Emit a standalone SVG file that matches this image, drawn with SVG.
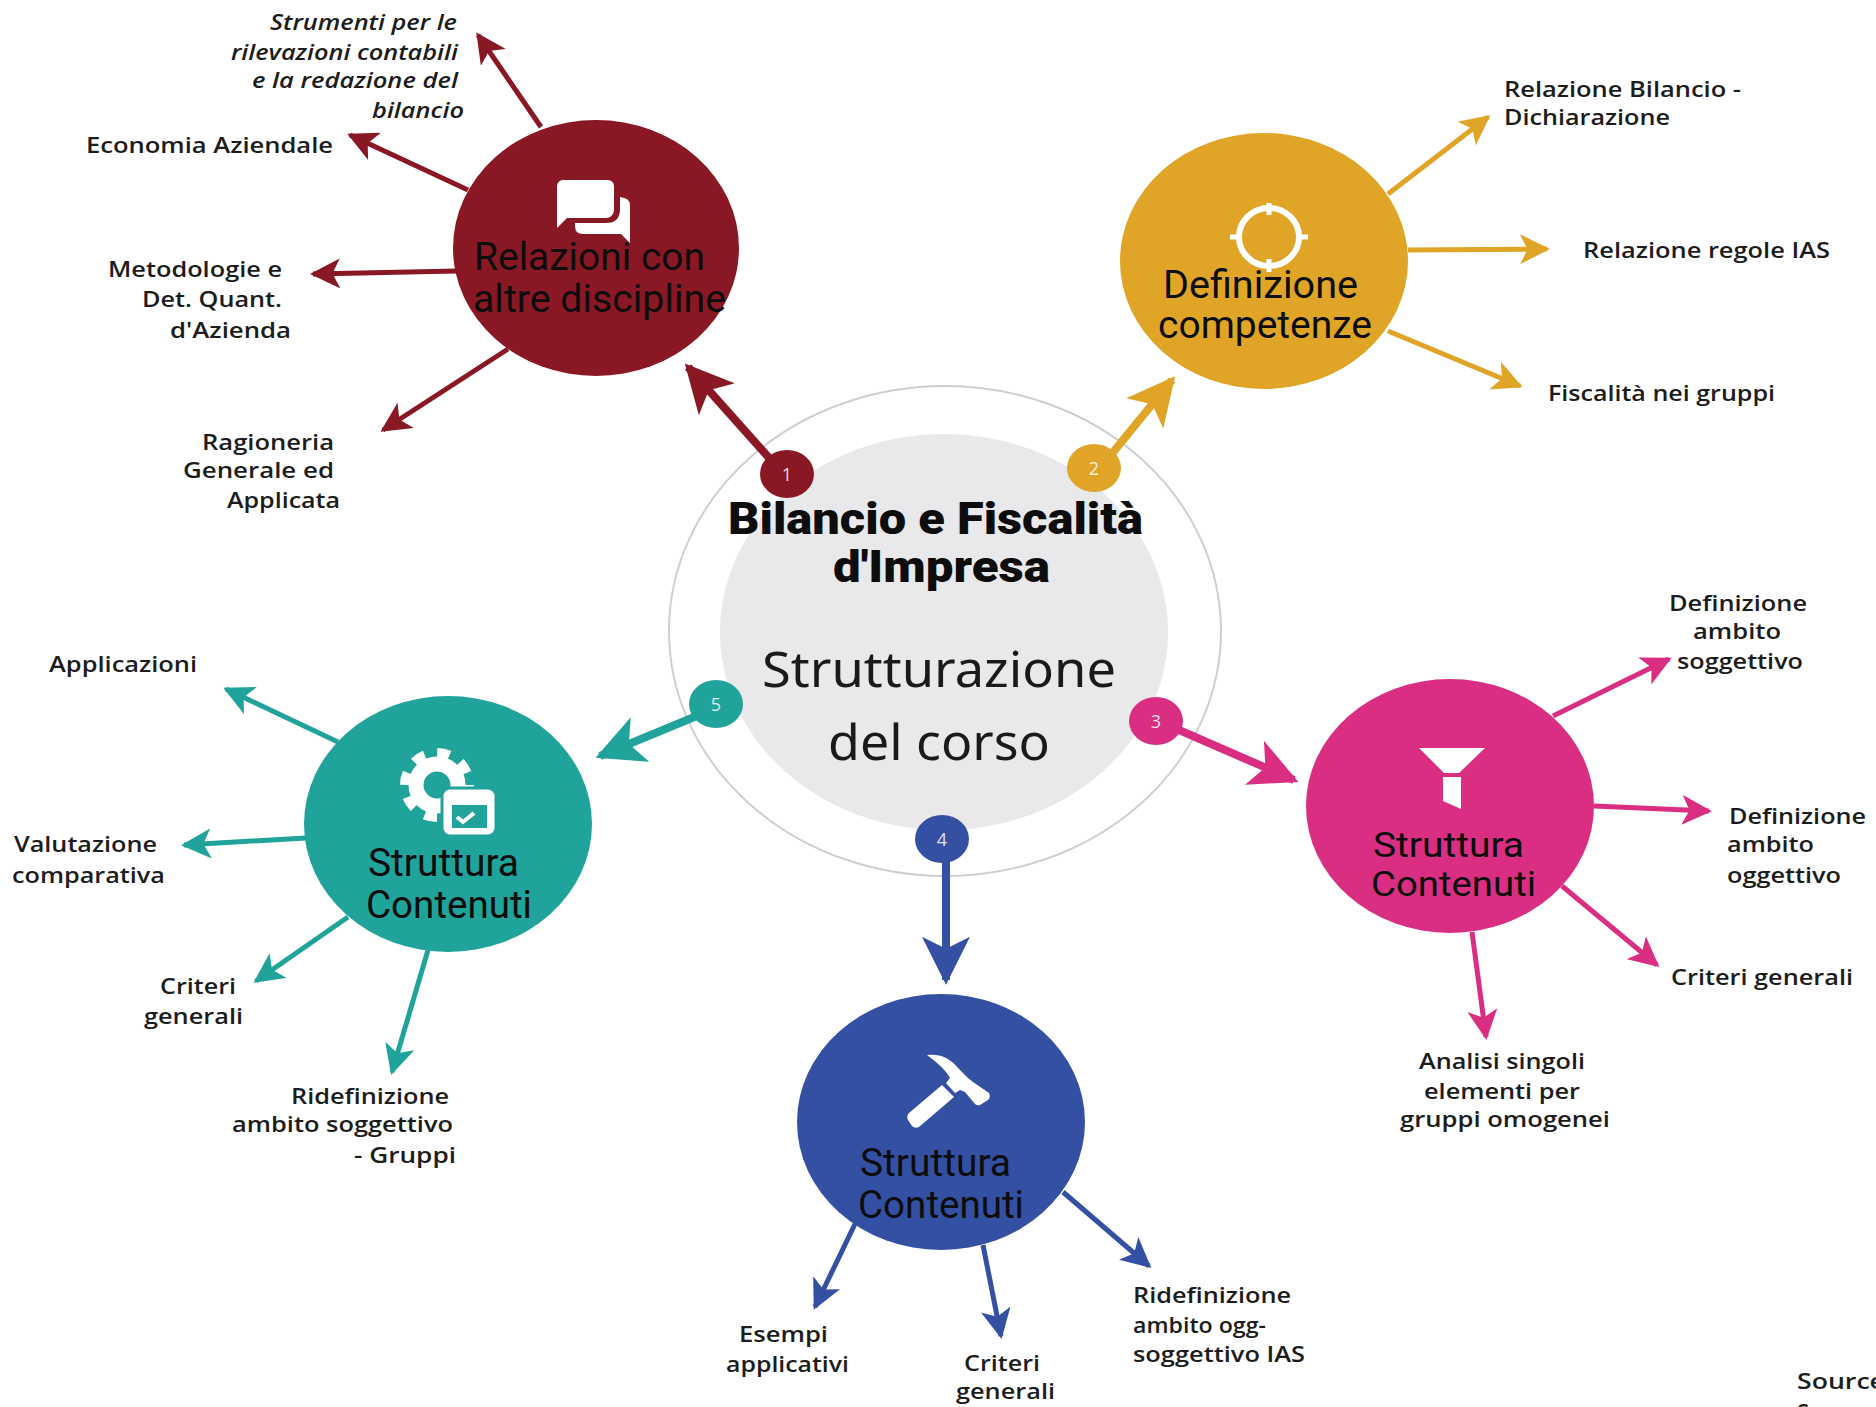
<svg xmlns="http://www.w3.org/2000/svg" width="1876" height="1407" viewBox="0 0 1876 1407">
<style>
text{font-family:"Open Sans","Liberation Sans",sans-serif}
.l{font-size:22px;font-weight:600;fill:#1c1c1c}
.i{font-style:italic}
.t{font-family:Roboto,"Liberation Sans",sans-serif;font-size:38px;font-weight:400;fill:#0d0d0d}
.p{font-size:35px}
.h{font-family:Roboto,"Liberation Sans",sans-serif;font-size:44px;font-weight:900;fill:#0d0d0d}
.s{font-family:"Noto Sans","Liberation Sans",sans-serif;font-size:49px;fill:#1a1a1a}
.n{font-size:18px;fill:#fff;text-anchor:middle;fill-opacity:.85}
.w{fill:#fff}
.c1{stroke:#8a1824;fill:none}.f1{fill:#8a1824}
.c2{stroke:#e0a526;fill:none}.f2{fill:#e0a526}
.c3{stroke:#d92e82;fill:none}.f3{fill:#d92e82}
.c4{stroke:#3450a2;fill:none}.f4{fill:#3450a2}
.c5{stroke:#20a39b;fill:none}.f5{fill:#20a39b}
</style>
<defs>
<marker id="a1" viewBox="0 0 10 10" refX="9" refY="5" markerWidth="6" markerHeight="6" orient="auto" markerUnits="strokeWidth"><path class="f1" d="M0 0L10 5L0 10L2.5 5Z"/></marker>
<marker id="a2" viewBox="0 0 10 10" refX="9" refY="5" markerWidth="6" markerHeight="6" orient="auto" markerUnits="strokeWidth"><path class="f2" d="M0 0L10 5L0 10L2.5 5Z"/></marker>
<marker id="a3" viewBox="0 0 10 10" refX="9" refY="5" markerWidth="6" markerHeight="6" orient="auto" markerUnits="strokeWidth"><path class="f3" d="M0 0L10 5L0 10L2.5 5Z"/></marker>
<marker id="a4" viewBox="0 0 10 10" refX="9" refY="5" markerWidth="6" markerHeight="6" orient="auto" markerUnits="strokeWidth"><path class="f4" d="M0 0L10 5L0 10L2.5 5Z"/></marker>
<marker id="a5" viewBox="0 0 10 10" refX="9" refY="5" markerWidth="6" markerHeight="6" orient="auto" markerUnits="strokeWidth"><path class="f5" d="M0 0L10 5L0 10L2.5 5Z"/></marker>
</defs>
<rect width="1876" height="1407" fill="#fff"/>
<g id="center">
<ellipse cx="945" cy="631" rx="276" ry="245" fill="#fff" stroke="#cfcfcf" stroke-width="2"/>
<ellipse cx="944" cy="632" rx="224" ry="198" fill="#e9e9eb"/>
<text class="h" x="728" y="534" textLength="415" lengthAdjust="spacingAndGlyphs">Bilancio e Fiscalità</text>
<text class="h" x="833" y="582" textLength="217" lengthAdjust="spacingAndGlyphs">d'Impresa</text>
<text class="s" x="762" y="687" textLength="354" lengthAdjust="spacingAndGlyphs">Strutturazione</text>
<text class="s" x="828" y="760" textLength="222" lengthAdjust="spacingAndGlyphs">del corso</text>
</g>
<g id="connectors">
<path class="c1" stroke-width="8" marker-end="url(#a1)" d="M787 478L688 367"/>
<path class="c2" stroke-width="8" marker-end="url(#a2)" d="M1092 478L1172 380"/>
<path class="c3" stroke-width="8" marker-end="url(#a3)" d="M1156 720L1294 780"/>
<path class="c4" stroke-width="8" marker-end="url(#a4)" d="M946 840V980"/>
<path class="c5" stroke-width="8" marker-end="url(#a5)" d="M716 708L600 756"/>
<path class="c1" stroke-width="5" marker-end="url(#a1)" d="M541 127L478 35"/>
<path class="c1" stroke-width="5" marker-end="url(#a1)" d="M468 190L350 135"/>
<path class="c1" stroke-width="5" marker-end="url(#a1)" d="M457 271L313 274"/>
<path class="c1" stroke-width="5" marker-end="url(#a1)" d="M508 349L383 430"/>
<path class="c2" stroke-width="5" marker-end="url(#a2)" d="M1388 194L1488 117"/>
<path class="c2" stroke-width="5" marker-end="url(#a2)" d="M1408 250L1547 249"/>
<path class="c2" stroke-width="5" marker-end="url(#a2)" d="M1388 331L1520 386"/>
<path class="c3" stroke-width="5" marker-end="url(#a3)" d="M1553 716L1669 659"/>
<path class="c3" stroke-width="5" marker-end="url(#a3)" d="M1594 806L1709 811"/>
<path class="c3" stroke-width="5" marker-end="url(#a3)" d="M1562 886L1657 965"/>
<path class="c3" stroke-width="5" marker-end="url(#a3)" d="M1472 932L1486 1037"/>
<path class="c4" stroke-width="5" marker-end="url(#a4)" d="M855 1224L815 1307"/>
<path class="c4" stroke-width="5" marker-end="url(#a4)" d="M983 1245L1001 1336"/>
<path class="c4" stroke-width="5" marker-end="url(#a4)" d="M1063 1192L1149 1266"/>
<path class="c5" stroke-width="5" marker-end="url(#a5)" d="M338 742L226 689"/>
<path class="c5" stroke-width="5" marker-end="url(#a5)" d="M306 838L184 845"/>
<path class="c5" stroke-width="5" marker-end="url(#a5)" d="M348 917L256 981"/>
<path class="c5" stroke-width="5" marker-end="url(#a5)" d="M428 950L392 1072"/>
</g>
<g id="badge-1"><ellipse class="f1" cx="787" cy="474" rx="27" ry="24"/><text class="n" x="787" y="481">1</text></g>
<g id="badge-2"><ellipse class="f2" cx="1094" cy="468" rx="27" ry="24"/><text class="n" x="1094" y="475">2</text></g>
<g id="badge-3"><ellipse class="f3" cx="1156" cy="721" rx="27" ry="24"/><text class="n" x="1156" y="728">3</text></g>
<g id="badge-4"><ellipse class="f4" cx="942" cy="839" rx="27" ry="24"/><text class="n" x="942" y="846">4</text></g>
<g id="badge-5"><ellipse class="f5" cx="716" cy="704" rx="27" ry="24"/><text class="n" x="716" y="711">5</text></g>

<g id="node-1">
<ellipse class="f1" cx="596" cy="248" rx="143" ry="128"/>
<path class="w" d="M563 180h45a6 6 0 0 1 6 6v24a8 8 0 0 1-8 8h-39l-10 10v-42a6 6 0 0 1 6-6Z"/>
<path class="w" d="M620 197q10 1 10 8v38l-9-9h-38q-8 0-8-8v-3h31q14 0 14-14Z"/>
<text class="t" x="474" y="270" textLength="231" lengthAdjust="spacingAndGlyphs">Relazioni con</text>
<text class="t" x="473" y="312" textLength="253" lengthAdjust="spacingAndGlyphs">altre discipline</text>
</g>
<g id="node-2">
<ellipse class="f2" cx="1264" cy="261" rx="144" ry="128"/>
<ellipse cx="1269" cy="237" rx="30" ry="29" fill="none" stroke="#fff" stroke-width="6"/>
<path d="M1269 203v12M1269 259v13M1230 237h12M1296 237h12" stroke="#fff" stroke-width="5"/>
<text class="t" x="1163" y="298" textLength="195" lengthAdjust="spacingAndGlyphs">Definizione</text>
<text class="t" x="1158" y="338" textLength="214" lengthAdjust="spacingAndGlyphs">competenze</text>
</g>
<g id="node-3">
<ellipse class="f3" cx="1450" cy="806" rx="144" ry="127"/>
<path class="w" d="M1419 748h66l-26 25h-15Z"/>
<path class="w" d="M1443 777h18v32l-18-8Z"/>
<text class="t p" x="1373" y="857" textLength="151" lengthAdjust="spacingAndGlyphs">Struttura</text>
<text class="t p" x="1371" y="896" textLength="165" lengthAdjust="spacingAndGlyphs">Contenuti</text>
</g>
<g id="node-4">
<ellipse class="f4" cx="941" cy="1122" rx="144" ry="128"/>
<path class="w" d="M927 1055Q946 1053 958 1068L968 1078L973 1082L989 1093Q991 1097 988 1100L980 1105Q977 1106 975 1104L965 1092L960 1090L955 1093L946 1083L950 1078Q945 1068 927 1055Z"/>
<path class="w" d="M942 1085L954 1097L919 1127Q915 1129 912 1126L908 1120Q906 1116 909 1113Z"/>
<text class="t" x="860" y="1176" textLength="151" lengthAdjust="spacingAndGlyphs">Struttura</text>
<text class="t" x="858" y="1218" textLength="166" lengthAdjust="spacingAndGlyphs">Contenuti</text>
</g>
<g id="node-5">
<ellipse class="f5" cx="448" cy="824" rx="144" ry="128"/>
<circle cx="437" cy="785" r="21" fill="none" stroke="#fff" stroke-width="15"/>
<circle cx="437" cy="785" r="32" fill="none" stroke="#fff" stroke-width="10" stroke-dasharray="12.5 12.63"/>
<rect class="w" x="442" y="788" width="54" height="48" rx="8" stroke="#20a39b" stroke-width="3"/>
<rect class="f5" x="452" y="805" width="35" height="23"/>
<path d="M457 817l6 5l11-9" fill="none" stroke="#fff" stroke-width="4"/>
<text class="t" x="368" y="876" textLength="151" lengthAdjust="spacingAndGlyphs">Struttura</text>
<text class="t" x="366" y="918" textLength="166" lengthAdjust="spacingAndGlyphs">Contenuti</text>
</g>

<g id="labels-1">
<text class="l i" x="270" y="30" textLength="187" lengthAdjust="spacingAndGlyphs">Strumenti per le</text>
<text class="l i" x="231" y="60" textLength="227" lengthAdjust="spacingAndGlyphs">rilevazioni contabili</text>
<text class="l i" x="252" y="88" textLength="206" lengthAdjust="spacingAndGlyphs">e la redazione del</text>
<text class="l i" x="372" y="118" textLength="92" lengthAdjust="spacingAndGlyphs">bilancio</text>
<text class="l" x="86" y="153" textLength="247" lengthAdjust="spacingAndGlyphs">Economia Aziendale</text>
<text class="l" x="108" y="277" textLength="174" lengthAdjust="spacingAndGlyphs">Metodologie e</text>
<text class="l" x="142" y="307" textLength="140" lengthAdjust="spacingAndGlyphs">Det. Quant.</text>
<text class="l" x="170" y="338" textLength="121" lengthAdjust="spacingAndGlyphs">d'Azienda</text>
<text class="l" x="202" y="450" textLength="132" lengthAdjust="spacingAndGlyphs">Ragioneria</text>
<text class="l" x="183" y="478" textLength="151" lengthAdjust="spacingAndGlyphs">Generale ed</text>
<text class="l" x="227" y="508" textLength="113" lengthAdjust="spacingAndGlyphs">Applicata</text>
</g>
<g id="labels-2">
<text class="l" x="1504" y="97" textLength="237" lengthAdjust="spacingAndGlyphs">Relazione Bilancio -</text>
<text class="l" x="1504" y="125" textLength="166" lengthAdjust="spacingAndGlyphs">Dichiarazione</text>
<text class="l" x="1583" y="258" textLength="247" lengthAdjust="spacingAndGlyphs">Relazione regole IAS</text>
<text class="l" x="1548" y="401" textLength="227" lengthAdjust="spacingAndGlyphs">Fiscalità nei gruppi</text>
</g>
<g id="labels-3">
<text class="l" x="1669" y="611" textLength="138" lengthAdjust="spacingAndGlyphs">Definizione</text>
<text class="l" x="1693" y="639" textLength="88" lengthAdjust="spacingAndGlyphs">ambito</text>
<text class="l" x="1677" y="669" textLength="126" lengthAdjust="spacingAndGlyphs">soggettivo</text>
<text class="l" x="1729" y="824" textLength="137" lengthAdjust="spacingAndGlyphs">Definizione</text>
<text class="l" x="1727" y="852" textLength="87" lengthAdjust="spacingAndGlyphs">ambito</text>
<text class="l" x="1727" y="883" textLength="114" lengthAdjust="spacingAndGlyphs">oggettivo</text>
<text class="l" x="1671" y="985" textLength="182" lengthAdjust="spacingAndGlyphs">Criteri generali</text>
<text class="l" x="1419" y="1069" textLength="166" lengthAdjust="spacingAndGlyphs">Analisi singoli</text>
<text class="l" x="1424" y="1099" textLength="156" lengthAdjust="spacingAndGlyphs">elementi per</text>
<text class="l" x="1400" y="1127" textLength="210" lengthAdjust="spacingAndGlyphs">gruppi omogenei</text>
</g>
<g id="labels-4">
<text class="l" x="739" y="1342" textLength="89" lengthAdjust="spacingAndGlyphs">Esempi</text>
<text class="l" x="726" y="1372" textLength="123" lengthAdjust="spacingAndGlyphs">applicativi</text>
<text class="l" x="964" y="1371" textLength="76" lengthAdjust="spacingAndGlyphs">Criteri</text>
<text class="l" x="956" y="1399" textLength="99" lengthAdjust="spacingAndGlyphs">generali</text>
<text class="l" x="1133" y="1303" textLength="158" lengthAdjust="spacingAndGlyphs">Ridefinizione</text>
<text class="l" x="1133" y="1333" textLength="133" lengthAdjust="spacingAndGlyphs">ambito ogg-</text>
<text class="l" x="1133" y="1362" textLength="172" lengthAdjust="spacingAndGlyphs">soggettivo IAS</text>
</g>
<g id="labels-5">
<text class="l" x="49" y="672" textLength="148" lengthAdjust="spacingAndGlyphs">Applicazioni</text>
<text class="l" x="14" y="852" textLength="143" lengthAdjust="spacingAndGlyphs">Valutazione</text>
<text class="l" x="12" y="883" textLength="153" lengthAdjust="spacingAndGlyphs">comparativa</text>
<text class="l" x="160" y="994" textLength="76" lengthAdjust="spacingAndGlyphs">Criteri</text>
<text class="l" x="144" y="1024" textLength="99" lengthAdjust="spacingAndGlyphs">generali</text>
<text class="l" x="291" y="1104" textLength="158" lengthAdjust="spacingAndGlyphs">Ridefinizione</text>
<text class="l" x="232" y="1132" textLength="221" lengthAdjust="spacingAndGlyphs">ambito soggettivo</text>
<text class="l" x="354" y="1163" textLength="102" lengthAdjust="spacingAndGlyphs">- Gruppi</text>
</g>
<g id="source">
<text class="l" x="1797" y="1389" textLength="88" lengthAdjust="spacingAndGlyphs">Source</text>
<text class="l" x="1797" y="1420">S</text>
</g>
</svg>
